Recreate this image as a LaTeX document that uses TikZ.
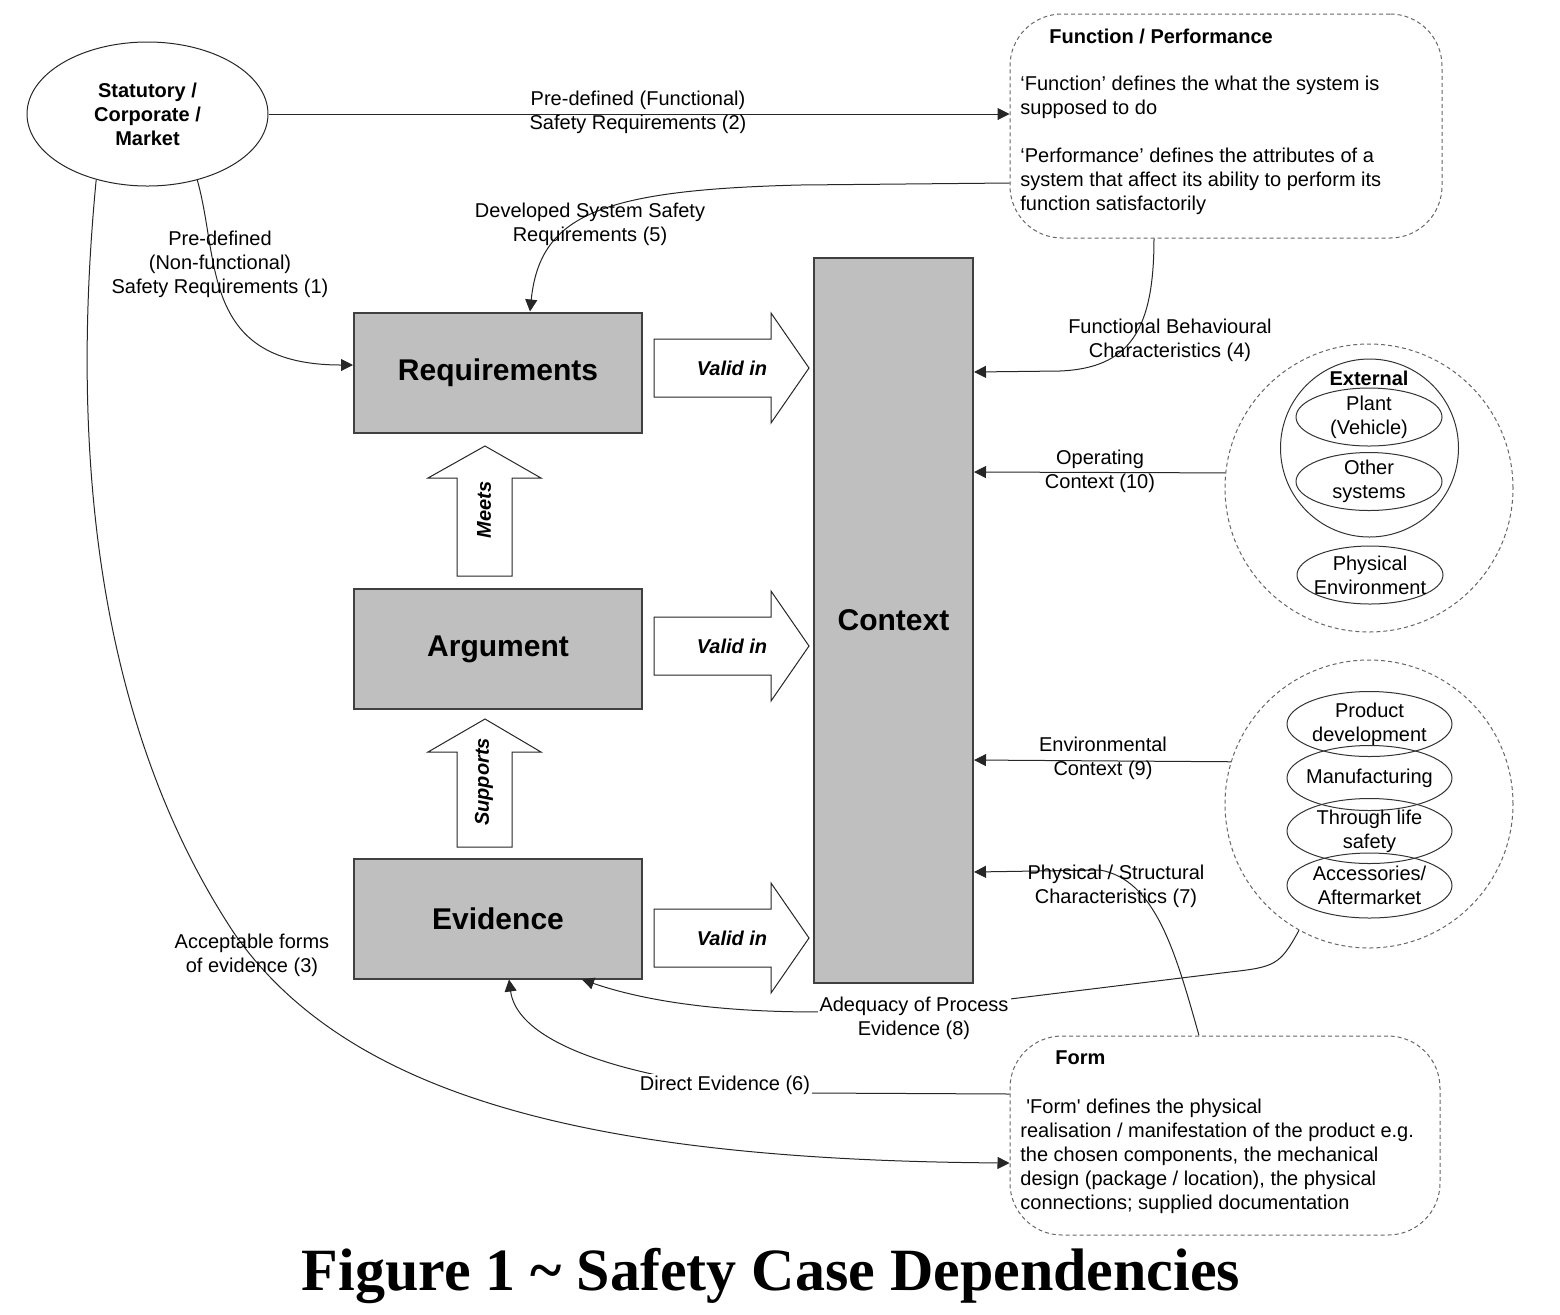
\documentclass[tikz,border=0pt]{standalone}
\usepackage{fontspec}
\setmainfont{Liberation Sans}
\newfontfamily\figfont{Liberation Serif}
\usepackage{tikz}
\usetikzlibrary{positioning, arrows.meta, shapes.geometric, calc}

\tikzset{
  casebox/.style={draw=black!75, line width=1pt, fill=black!25, minimum width=144pt, minimum height=60pt, font=\fontsize{15}{18}\selectfont\bfseries},
  conn/.style={draw=black!85, line width=0.5pt, -{Triangle[length=6pt,width=6pt]}},
  lbl/.style={align=center, inner sep=1pt},
  fat/.style={draw=black!85, line width=0.5pt, fill=white},
  fattext/.style={font=\fontsize{10}{12}\selectfont\bfseries\itshape},
  notebox/.style={draw=black!60, line width=0.5pt, dash pattern=on 2pt off 1.5pt, rounded corners=26pt, minimum width=216pt, minimum height=112pt},
  zone/.style={circle, draw=black!60, line width=0.5pt, dash pattern=on 2pt off 1.5pt, minimum size=144pt, inner sep=0pt},
  oval/.style={ellipse, draw=black!80, line width=0.5pt, inner sep=0pt, minimum width=82.5pt, minimum height=32.5pt}
}

\begin{document}
\begin{tikzpicture}[x=0.5pt, y=-0.5pt, font=\fontsize{10}{12}\selectfont]
\useasboundingbox (0,0) rectangle (1560,1314);

\node[ellipse, draw=black!85, line width=0.5pt, minimum width=120.5pt, minimum height=72pt, inner sep=0pt, align=center, font=\fontsize{10}{12}\selectfont\bfseries] (stat) at (147.5,114) {Statutory /\\Corporate /\\Market};

\node[casebox] (req) at (498,372.5) {Requirements};
\node[casebox] (arg) at (498,649) {Argument};
\node[casebox] (evid) at (498,918.5) {Evidence};
\node[casebox, minimum width=79.5pt, minimum height=362.5pt] (ctx) at (893.5,620.5) {Context};

% block arrows
\draw[fat] (654,339) -- (771,339) -- (771,313) -- (809,368) -- (771,423) -- (771,397) -- (654,397) -- cycle;
\draw[fat] (654,617) -- (771,617) -- (771,591) -- (809,646) -- (771,701) -- (771,675) -- (654,675) -- cycle;
\draw[fat] (654,909) -- (771,909) -- (771,883) -- (809,938) -- (771,993) -- (771,967) -- (654,967) -- cycle;
\draw[fat] (457,576) -- (457,478) -- (428,478) -- (485,446) -- (541,478) -- (512,478) -- (512,576) -- cycle;
\draw[fat] (457,847) -- (457,752) -- (428,752) -- (485,719) -- (541,752) -- (512,752) -- (512,847) -- cycle;
\node[fattext] (valid1) at (732,368) {Valid in};
\node[fattext] (valid2) at (732,646) {Valid in};
\node[fattext] (valid3) at (732,938) {Valid in};
\node[fattext, rotate=90] (meets) at (484,510) {Meets};
\node[fattext, rotate=90] (supports) at (484,782) {Supports};

% function / performance
\node[notebox] (func) at (1226,126) {};
\node[font=\fontsize{10}{12}\selectfont\bfseries, anchor=west, inner sep=0pt] (functitle) at (1049,36) {Function / Performance};
\node[align=left, anchor=west, inner sep=0pt] (functext) at (1020,145) {`Function' defines the what the system is\\supposed to do\\[12pt]`Performance' defines the attributes of a\\system that affect its ability to perform its\\function satisfactorily};

% form
\node[notebox, minimum width=215pt, minimum height=99.5pt] (form) at (1225,1135.5) {};
\node[font=\fontsize{10}{12}\selectfont\bfseries, anchor=west, inner sep=0pt] (formtitle) at (1055,1058) {Form};
\node[align=left, anchor=west, inner sep=0pt] (formtext) at (1020,1156) {\hspace*{3pt}\textquotesingle Form\textquotesingle{} defines the physical\\realisation / manifestation of the product e.g.\\the chosen components, the mechanical\\design (package / location), the physical\\connections; supplied documentation};

% external
\node[zone] (ring1) at (1369,488) {};
\node[circle, draw=black!80, line width=0.5pt, minimum size=89pt, inner sep=0pt] (external) at (1369.5,448) {};
\node[font=\fontsize{10}{12}\selectfont\bfseries, inner sep=0pt] (exttitle) at (1369,378) {External};
\node[oval, minimum width=73pt, minimum height=29pt, label={[lbl]center:Plant\\(Vehicle)}] (plant) at (1369,417) {};
\node[oval, minimum width=73pt, minimum height=29pt, label={[lbl]center:Other\\systems}] (other) at (1369,481.5) {};
\node[oval, minimum width=73pt, minimum height=29pt, label={[lbl]center:Physical\\Environment}] (physenv) at (1370,575) {};

% process
\node[zone] (ring2) at (1369,804) {};
\node[oval, label={[lbl]center:Product\\development}] (product) at (1369.5,724) {};
\node[oval, label={[lbl]center:Manufacturing}] (manuf) at (1369.5,778) {};
\node[oval, label={[lbl]center:Through life\\safety}] (life) at (1369.5,831) {};
\node[oval, label={[lbl]center:Accessories/\\Aftermarket}] (access) at (1369.5,885.5) {};

% connectors
\draw[conn] (stat.east) -- (stat.east -| func.west);
\draw[conn] (stat.307) .. controls (220,260) and (200,365) .. ([yshift=3.75pt]req.west);
\draw[conn] (stat.232) .. controls (75,400) and (80,700) .. (234,933) .. controls (350,1100) and (600,1160) .. ([yshift=-13.75pt]form.west);
\draw[conn] ([yshift=-28.5pt]func.west) -- (800,185) .. controls (600,190) and (540,215) .. ([xshift=16pt]req.north);
\draw[conn] ([xshift=-36pt]func.south) .. controls (1154,330) and (1130,368) .. (1060,371) -- ($(ctx.north east)+(0,115)$);
\draw[conn] (ring1.174) -- ($(ctx.north east)+(0,215)$);
\draw[conn] (ring2.163) -- ($(ctx.north east)+(0,503)$);
\draw[conn] ([xshift=-13pt]form.north) .. controls (1175,950) and (1155,880) .. (1100,870) -- ($(ctx.north east)+(0,615)$);
\draw[conn] (ring2.241) .. controls (1280,965) and (1275,967) .. (1230,972) -- (1010,999) .. controls (870,1017) and (700,1020) .. ([xshift=42pt]evid.south);
\draw[conn] ([yshift=20.75pt]form.west) -- (810,1093) .. controls (700,1090) and (520,1060) .. ([xshift=5.5pt]evid.south);

% labels
\node[lbl] (l2) at (638,112) {Pre-defined (Functional)\\Safety Requirements (2)};
\node[lbl] (l1) at (220,264) {Pre-defined\\(Non-functional)\\Safety Requirements (1)};
\node[lbl] (l5) at (590,224) {Developed System Safety\\Requirements (5)};
\node[lbl] (l4) at (1170,340) {Functional Behavioural\\Characteristics (4)};
\node[lbl] (l10) at (1100,471) {Operating\\Context (10)};
\node[lbl] (l9) at (1103,758) {Environmental\\Context (9)};
\node[lbl] (l7) at (1116,886) {Physical / Structural\\Characteristics (7)};
\node[lbl, fill=white] (l8) at (914,1018) {Adequacy of Process\\Evidence (8)};
\node[lbl, fill=white] (l6) at (725,1085) {Direct Evidence (6)};
\node[lbl] (l3) at (252,955) {Acceptable forms\\of evidence (3)};

\node[font={\figfont\fontsize{30}{35}\selectfont\bfseries}] (caption) at (771,1276) {Figure 1 \textasciitilde{} Safety Case Dependencies};
\end{tikzpicture}
\end{document}
